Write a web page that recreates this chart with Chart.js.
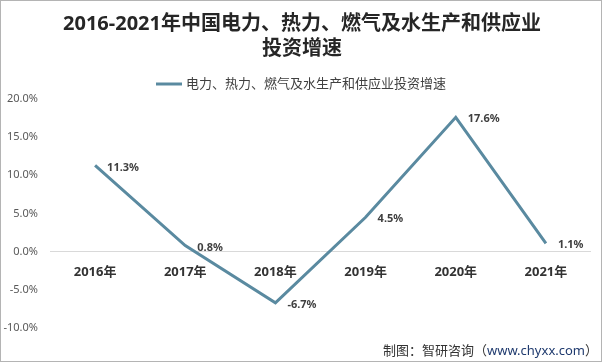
<!DOCTYPE html>
<html><head><meta charset="utf-8">
<script src="https://cdn.jsdelivr.net/npm/chart.js@4"></script>
<style>html,body{margin:0;padding:0;background:#fff}#wrap{width:605px;height:363px;position:relative}</style>
</head><body><div id="wrap"><canvas id="c" width="605" height="363"></canvas></div>
<script>
const categories = ['2016年','2017年','2018年','2019年','2020年','2021年'];
const growthValues = [11.3, 0.8, -6.7, 4.5, 17.6, 1.1];
const seriesName = '电力、热力、燃气及水生产和供应业投资增速';
const titleLines = ['2016-2021年中国电力、热力、燃气及水生产和供应业', '投资增速'];
const yTicks = [-10, -5, 0, 5, 10, 15, 20];
const sourceText = ['制图：智研咨询（', 'www.chyxx.com', '）'];

const FONT = '"Noto Sans", "Noto Sans CJK SC", sans-serif';
const LINE = '#5a8aa0';

const deco = {
  id: 'deco',
  afterDraw(chart) {
    const ctx = chart.ctx;
    ctx.save();
    // border
    ctx.strokeStyle = '#b4b4b4'; ctx.lineWidth = 1;
    ctx.strokeRect(0.5, 0.5, 601, 361);
    // title
    ctx.fillStyle = '#262626';
    ctx.font = 'bold 20px ' + FONT;
    ctx.textAlign = 'center'; ctx.textBaseline = 'middle';
    ctx.fillText(titleLines[0], 302, 24);
    ctx.fillText(titleLines[1], 302, 49);
    // legend
    ctx.strokeStyle = LINE; ctx.lineWidth = 3;
    ctx.beginPath(); ctx.moveTo(156, 84); ctx.lineTo(182, 84); ctx.stroke();
    ctx.fillStyle = '#404040'; ctx.font = '13px ' + FONT;
    ctx.textAlign = 'left';
    ctx.fillText(seriesName, 186, 84);
    // data labels
    const meta = chart.getDatasetMeta(0);
    ctx.font = 'bold 11px ' + FONT; ctx.fillStyle = '#404040';
    meta.data.forEach((pt, i) => {
      ctx.fillText(growthValues[i].toFixed(1) + '%', pt.x + 12, pt.y + 2);
    });
    // source
    ctx.font = '13px ' + FONT; ctx.textAlign = 'left';
    const w0 = ctx.measureText(sourceText[0]).width;
    const w1 = ctx.measureText(sourceText[1]).width;
    const w2 = ctx.measureText(sourceText[2]).width;
    let x = 598 - (w0 + w1 + w2);
    ctx.fillStyle = '#333333'; ctx.fillText(sourceText[0], x, 351); x += w0;
    ctx.fillStyle = '#1f3a6e'; ctx.fillText(sourceText[1], x, 351); x += w1;
    ctx.fillStyle = '#333333'; ctx.fillText(sourceText[2], x, 351);
    ctx.restore();
  }
};

new Chart(document.getElementById('c'), {
  type: 'line',
  data: {
    labels: categories,
    datasets: [{
      label: seriesName,
      data: growthValues,
      borderColor: LINE,
      backgroundColor: LINE,
      borderWidth: 3,
      pointRadius: 0,
      tension: 0,
      fill: false
    }]
  },
  options: {
    responsive: false,
    animation: false,
    devicePixelRatio: 1,
    layout: { padding: { top: 99, bottom: 35, left: 0, right: 14 } },
    plugins: { legend: { display: false }, title: { display: false }, tooltip: { enabled: false } },
    scales: {
      x: {
        type: 'category',
        position: { y: 0 },
        offset: true,
        grid: { display: false, drawTicks: false },
        border: { display: false },
        ticks: { color: '#333333', font: { family: FONT, size: 13, weight: 'bold' }, padding: 13 }
      },
      y: {
        min: -10, max: 20,
        afterFit(s) { s.width = 50; },
        afterBuildTicks(s) { s.ticks = yTicks.map(v => ({ value: v })); },
        grid: {
          drawTicks: false,
          color: c => (c.tick && c.tick.value === 0) ? '#d9d9d9' : 'rgba(0,0,0,0)',
          lineWidth: 1
        },
        border: { display: false },
        ticks: {
          color: '#595959', padding: 12,
          font: { family: FONT, size: 11 },
          callback: v => v.toFixed(1) + '%'
        }
      }
    }
  },
  plugins: [deco]
});
</script></body></html>
